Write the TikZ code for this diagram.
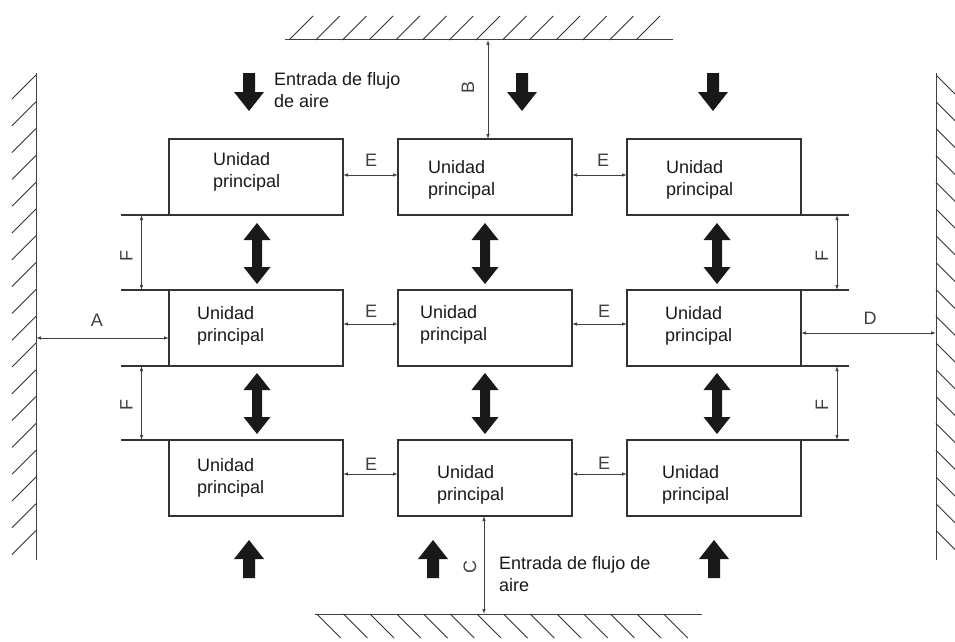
\documentclass[tikz,border=0pt]{standalone}
\usepackage{fontspec}
\setmainfont{Liberation Sans}
\usetikzlibrary{arrows.meta,calc}
\tikzset{
  pics/flowdown/.style={code={\fill[flow] (-6,-19) -- (6,-19) -- (6,0) -- (15,0) -- (0,19) -- (-15,0) -- (-6,0) -- cycle;}},
  pics/flowup/.style={code={\fill[flow] (-6,19) -- (6,19) -- (6,0) -- (15,0) -- (0,-19) -- (-15,0) -- (-6,0) -- cycle;}},
  pics/flowboth/.style={code={\fill[flow] (0,-30.5) -- (13.5,-13.5) -- (5,-13.5) -- (5,13.5) -- (13.5,13.5) -- (0,30.5) -- (-13.5,13.5) -- (-5,13.5) -- (-5,-13.5) -- (-13.5,-13.5) -- cycle;}}
}
\begin{document}
\begin{tikzpicture}[x=1pt,y=-1pt,
  unit/.style={draw=black!80, line width=1.1pt, minimum width=174pt, minimum height=76pt, inner sep=0pt, outer sep=0pt, anchor=north west},
  utext/.style={anchor=west, align=left, inner sep=0pt, font=\fontsize{18}{21.5}\selectfont, text=black!90},
  dimlabel/.style={inner sep=0pt, font=\fontsize{18}{21.5}\selectfont, text=black!75},
  dimline/.style={draw=black!75, line width=0.8pt, {Latex[length=5pt,width=3.5pt]}-{Latex[length=5pt,width=3.5pt]}},
  extline/.style={draw=black!80, line width=1.1pt},
  wall/.style={draw=black!75, line width=1pt},
  hatch/.style={draw=black!80, line width=0.9pt},
  flow/.style={fill=black!90}
]
\useasboundingbox (0,0) rectangle (955,642);
\begin{scope}
\clip (0,0) rectangle (955,642);
% walls
\coordinate (twL) at (285,40); \coordinate (twR) at (673,40);
\draw[wall] (twL) -- (twR);
\foreach \k in {0,...,13} \draw[hatch] (289+26.7*\k,40) -- ++(24,-24);
\coordinate (lwT) at (36,73); \coordinate (lwB) at (36,560);
\draw[wall] (lwT) -- (lwB);
\foreach \k in {0,...,17} \draw[hatch] (36,75+26.8*\k) -- ++(-24,24);
\coordinate (rwT) at (936,73); \coordinate (rwB) at (936,560);
\draw[wall] (rwT) -- (rwB);
\foreach \k in {0,...,17} \draw[hatch] (936,75+26.8*\k) -- ++(24,24);
\coordinate (bwL) at (315,614); \coordinate (bwR) at (702,614);
\draw[wall] (bwL) -- (bwR);
\foreach \k in {0,...,13} \draw[hatch] (316.7+26.7*\k,614) -- ++(24,24);
\end{scope}

% units
\node[unit] (b11) at (169,139) {};
\node[unit] (b12) at (398,139) {};
\node[unit] (b13) at (627,139) {};
\node[unit] (b21) at (169,290) {};
\node[unit] (b22) at (398,290) {};
\node[unit] (b23) at (627,290) {};
\node[unit] (b31) at (169,440) {};
\node[unit] (b32) at (398,440) {};
\node[unit] (b33) at (627,440) {};

\node[utext] (t11) at (213,172) {Unidad\\principal};
\node[utext] (t12) at (428,180) {Unidad\\principal};
\node[utext] (t13) at (666,180) {Unidad\\principal};
\node[utext] (t21) at (197,326) {Unidad\\principal};
\node[utext] (t22) at (420,325) {Unidad\\principal};
\node[utext] (t23) at (665,326) {Unidad\\principal};
\node[utext] (t31) at (197,478) {Unidad\\principal};
\node[utext] (t32) at (437,485) {Unidad\\principal};
\node[utext] (t33) at (662,485) {Unidad\\principal};

% air flow texts
\node[utext] (intop) at (274,90) {Entrada de flujo\\de aire};
\node[utext] (inbot) at (499,574) {Entrada de flujo de\\aire};

% flow arrows
\pic at (249,92) {flowdown};
\pic at (522,92) {flowdown};
\pic at (713,92) {flowdown};
\pic at (249,559) {flowup};
\pic at (433,559) {flowup};
\pic at (714,559) {flowup};
\pic at (257,253.5) {flowboth};
\pic at (485,253.5) {flowboth};
\pic at (717,253.5) {flowboth};
\pic at (257,403.5) {flowboth};
\pic at (485,403.5) {flowboth};
\pic at (717,403.5) {flowboth};

% dimension B and C
\coordinate (bdim) at (488,40);
\draw[dimline] (bdim) -- (bdim |- b12.north);
\node[dimlabel, rotate=90] (lB) at (468,87) {B};
\coordinate (cdim) at (484,614);
\draw[dimline] (cdim |- b32.south) -- (cdim);
\node[dimlabel, rotate=90] (lC) at (470,567) {C};

% dimension A and D
\coordinate (adim) at (36,338);
\draw[dimline] (adim) -- (adim -| b21.west);
\node[dimlabel] (lA) at (97,320) {A};
\coordinate (ddim) at (936,333);
\draw[dimline] (ddim -| b23.east) -- (ddim);
\node[dimlabel] (lD) at (870,318) {D};

% dimension E
\coordinate (e1) at (0,175); \coordinate (e2) at (0,324); \coordinate (e3) at (0,474);
\draw[dimline] (b11.east |- e1) -- (b12.west |- e1);
\draw[dimline] (b12.east |- e1) -- (b13.west |- e1);
\draw[dimline] (b21.east |- e2) -- (b22.west |- e2);
\draw[dimline] (b22.east |- e2) -- (b23.west |- e2);
\draw[dimline] (b31.east |- e3) -- (b32.west |- e3);
\draw[dimline] (b32.east |- e3) -- (b33.west |- e3);
\node[dimlabel] (lE1) at (371,160) {E};
\node[dimlabel] (lE2) at (603,160) {E};
\node[dimlabel] (lE3) at (371,311) {E};
\node[dimlabel] (lE4) at (604,311) {E};
\node[dimlabel] (lE5) at (371,464) {E};
\node[dimlabel] (lE6) at (604,463) {E};

% dimension F (left)
\coordinate (fl1) at (121,215); \coordinate (fl2) at (121,290);
\coordinate (fl3) at (121,366); \coordinate (fl4) at (121,440);
\draw[extline] (fl1) -- (b11.south west);
\draw[extline] (fl2) -- (b21.north west);
\draw[extline] (fl3) -- (b21.south west);
\draw[extline] (fl4) -- (b31.north west);
\coordinate (fla) at (141.5,215); \coordinate (flb) at (141.5,366);
\draw[dimline] (fla) -- (fla |- fl2);
\draw[dimline] (flb) -- (flb |- fl4);
\node[dimlabel, rotate=90] (lF1) at (126.5,256) {F};
\node[dimlabel, rotate=90] (lF2) at (126.5,405) {F};

% dimension F (right)
\coordinate (fr1) at (849,215); \coordinate (fr2) at (849,290);
\coordinate (fr3) at (849,366); \coordinate (fr4) at (849,440);
\draw[extline] (b13.south east) -- (fr1);
\draw[extline] (b23.north east) -- (fr2);
\draw[extline] (b23.south east) -- (fr3);
\draw[extline] (b33.north east) -- (fr4);
\coordinate (fra) at (837,215); \coordinate (frb) at (837,366);
\draw[dimline] (fra) -- (fra |- fr2);
\draw[dimline] (frb) -- (frb |- fr4);
\node[dimlabel, rotate=90] (lF3) at (822,256) {F};
\node[dimlabel, rotate=90] (lF4) at (822,405) {F};
\end{tikzpicture}
\end{document}
